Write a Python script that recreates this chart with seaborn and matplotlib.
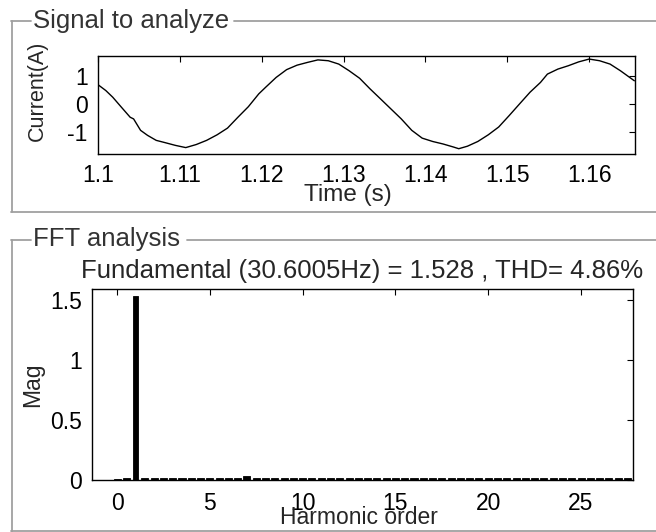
import matplotlib
matplotlib.use("Agg")
import matplotlib.pyplot as plt
from matplotlib.lines import Line2D
import pandas as pd
import seaborn as sns

# ---------------- data ----------------
time_s = [1.1000, 1.10095, 1.10180, 1.10286, 1.10393, 1.10435, 1.10520, 1.10605,
          1.10711, 1.10817, 1.10945, 1.11072, 1.11200, 1.11327, 1.11455, 1.11582,
          1.11709, 1.11837, 1.11964, 1.12049, 1.12176, 1.12304, 1.12431, 1.12559,
          1.12686, 1.12813, 1.12941, 1.13068, 1.13196, 1.13323, 1.13451, 1.13578,
          1.13705, 1.13833, 1.13960, 1.14088, 1.14215, 1.14343, 1.14407, 1.14513,
          1.14640, 1.14768, 1.14895, 1.15023, 1.15150, 1.15278, 1.15405, 1.15490,
          1.15618, 1.15745, 1.15873, 1.16000, 1.16127, 1.16255, 1.16382, 1.16552]
current_a = [0.69, 0.48, 0.24, -0.12, -0.48, -0.54, -0.95, -1.13,
             -1.31, -1.39, -1.49, -1.57, -1.46, -1.31, -1.11, -0.87,
             -0.48, -0.10, 0.36, 0.60, 0.95, 1.23, 1.39, 1.49,
             1.58, 1.55, 1.43, 1.19, 0.92, 0.54, 0.18, -0.18,
             -0.54, -0.95, -1.23, -1.35, -1.44, -1.55, -1.61, -1.52,
             -1.35, -1.11, -0.83, -0.42, 0.00, 0.42, 0.77, 1.07,
             1.25, 1.37, 1.51, 1.61, 1.55, 1.43, 1.19, 0.83]

harmonic_order = [0, 0.5, 1, 1.5, 2, 2.5, 3, 3.5, 4, 4.5, 5, 5.5, 6, 6.5,
                  7, 7.5, 8, 8.5, 9, 9.5, 10, 10.5, 11, 11.5, 12, 12.5, 13, 13.5,
                  14, 14.5, 15, 15.5, 16, 16.5, 17, 17.5, 18, 18.5, 19, 19.5, 20, 20.5,
                  21, 21.5, 22, 22.5, 23, 23.5, 24, 24.5, 25, 25.5, 26, 26.5, 27, 27.5]
harmonic_mag = [0.012, 0.014, 1.528, 0.014, 0.013, 0.013, 0.013, 0.013, 0.013, 0.013,
                0.020, 0.013, 0.013, 0.013, 0.030, 0.013, 0.013, 0.013, 0.013, 0.013,
                0.013, 0.013, 0.013, 0.013, 0.013, 0.013, 0.013, 0.013, 0.013, 0.013,
                0.013, 0.013, 0.013, 0.013, 0.013, 0.013, 0.013, 0.013, 0.013, 0.013,
                0.013, 0.013, 0.013, 0.013, 0.013, 0.013, 0.013, 0.013, 0.013, 0.013,
                0.013, 0.013, 0.013, 0.013, 0.013, 0.013]
fundamental_order = 1

signal_xticks = [1.1, 1.11, 1.12, 1.13, 1.14, 1.15, 1.16]
signal_xticklabels = ["1.1", "1.11", "1.12", "1.13", "1.14", "1.15", "1.16"]
signal_yticks = [-1, 0, 1]
signal_yticklabels = ["-1", "0", "1"]
fft_xticks = [0, 5, 10, 15, 20, 25]
fft_xticklabels = ["0", "5", "10", "15", "20", "25"]
fft_yticks = [0, 0.5, 1, 1.5]
fft_yticklabels = ["0", "0.5", "1", "1.5"]

fft_title = "Fundamental (30.6005Hz) = 1.528 , THD= 4.86%"

assert len(time_s) == len(current_a)
assert len(harmonic_order) == len(harmonic_mag)

# ---------------- style ----------------
sns.set_style("white")
plt.rcParams["font.family"] = ["Liberation Sans", "DejaVu Sans"]
plt.rcParams["axes.edgecolor"] = "black"
plt.rcParams["axes.linewidth"] = 1.0

W, H = 656, 532
fig = plt.figure(figsize=(W / 100, H / 100), dpi=100)
fig.patch.set_facecolor("white")


def fx(x):
    return x / W


def fy(y):
    return 1 - y / H


def hline(x0, x1, y, color="#a0a0a0"):
    fig.add_artist(Line2D([fx(x0), fx(x1)], [fy(y), fy(y)], color=color, lw=1.3,
                          transform=fig.transFigure))


def vline(x, y0, y1, color="#a0a0a0"):
    fig.add_artist(Line2D([fx(x), fx(x)], [fy(y0), fy(y1)], color=color, lw=1.3,
                          transform=fig.transFigure))


# group boxes
hline(11, 31, 21)
hline(234, 656, 21)
vline(11.5, 21, 212)
hline(11, 656, 212)
fig.text(fx(33), fy(28), "Signal to analyze", fontsize=18.5, color="#333333",
         ha="left", va="baseline")

hline(11, 31, 239.5)
hline(187, 656, 239.5)
vline(11.5, 239.5, 532)
hline(11, 656, 531)
fig.text(fx(33), fy(246), "FFT analysis", fontsize=18.5, color="#333333",
         ha="left", va="baseline")

# ---------------- top axes: signal ----------------
ax1 = fig.add_axes([fx(98), fy(154), (635 - 98) / W, (154 - 56) / H])
sig = pd.DataFrame({"t": time_s, "i": current_a})
sns.lineplot(data=sig, x="t", y="i", ax=ax1, color="black", linewidth=1.0,
             estimator=None, sort=False)
ax1.set_xlim(1.1, 1.1656)
ax1.set_ylim(-1.80, 1.72)
ax1.set_xticks(signal_xticks)
ax1.set_xticklabels(signal_xticklabels)
ax1.set_yticks(signal_yticks)
ax1.set_yticklabels(signal_yticklabels)
ax1.tick_params(direction="in", length=4, width=0.8, top=True, right=True,
                labelsize=16.5, colors="black")
ax1.tick_params(axis="x", pad=7)
ax1.tick_params(axis="y", pad=7.5)
ax1.set_xlabel("Time (s)", fontsize=17.5)
ax1.xaxis.label.set_va("center")
ax1.xaxis.set_label_coords((348 - 98) / 537, -(195 - 154) / 98)
ax1.set_ylabel("Current(A)", fontsize=15.5)
ax1.yaxis.label.set_va("center")
ax1.yaxis.set_label_coords((37 - 98) / 537, (154 - 91) / 98)
for s in ax1.spines.values():
    s.set_visible(True)
    s.set_color("black")

# ---------------- bottom axes: FFT ----------------
ax2 = fig.add_axes([fx(92), fy(480), (633 - 92) / W, (480 - 289) / H])
fft = pd.DataFrame({"order": harmonic_order, "mag": harmonic_mag})
small = fft[fft["order"] != fundamental_order]
fund = fft[fft["order"] == fundamental_order]
sns.barplot(data=small, x="order", y="mag", ax=ax2, native_scale=True, orient="x",
            color="black", saturation=1, width=0.76, errorbar=None,
            edgecolor="black", linewidth=0.6)
sns.barplot(data=fund, x="order", y="mag", ax=ax2, native_scale=True, orient="x",
            color="black", saturation=1, width=0.28, errorbar=None,
            edgecolor="black", linewidth=0.6)
ax2.set_xlim(-1.35, 27.8)
ax2.set_ylim(0, 1.59)
ax2.set_xticks(fft_xticks)
ax2.set_xticklabels(fft_xticklabels)
ax2.set_yticks(fft_yticks)
ax2.set_yticklabels(fft_yticklabels)
ax2.tick_params(direction="in", length=4, width=0.8, top=True, right=True,
                labelsize=16.5, colors="black")
ax2.tick_params(axis="x", pad=8.5)
ax2.tick_params(axis="y", pad=7)
ax2.set_title(fft_title, fontsize=18.5, pad=7.7)
ax2.set_xlabel("Harmonic order", fontsize=16.5)
ax2.xaxis.label.set_va("center")
ax2.xaxis.set_label_coords((359 - 92) / 541, -(518 - 480) / 191)
ax2.set_ylabel("Mag", fontsize=16.5)
ax2.yaxis.label.set_va("center")
ax2.yaxis.set_label_coords((32.5 - 92) / 541, (480 - 385) / 191)
for s in ax2.spines.values():
    s.set_visible(True)
    s.set_color("black")

fig.savefig("out.png", dpi=100, facecolor="white")
